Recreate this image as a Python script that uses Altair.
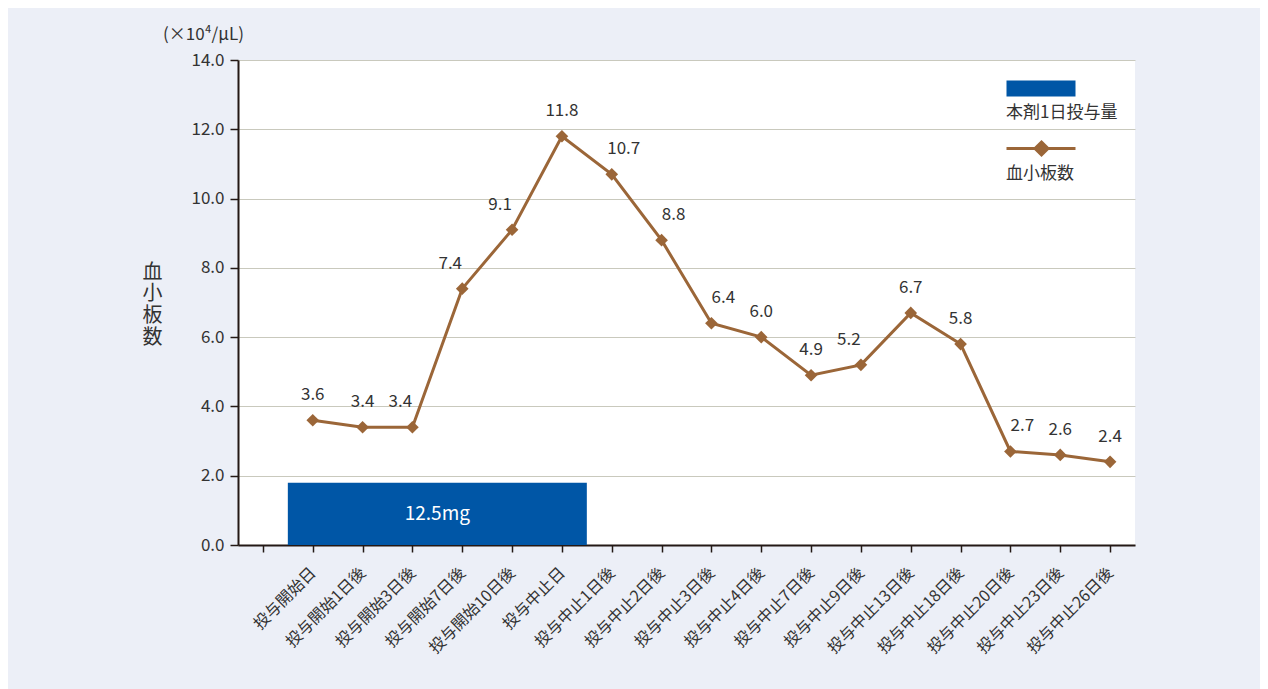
import json
import altair as alt
import pandas as pd

# ---------------- data ----------------
categories = ["", "投与開始日", "投与開始1日後", "投与開始3日後", "投与開始7日後",
              "投与開始10日後", "投与中止日", "投与中止1日後", "投与中止2日後",
              "投与中止3日後", "投与中止4日後", "投与中止7日後", "投与中止9日後",
              "投与中止13日後", "投与中止18日後", "投与中止20日後", "投与中止23日後",
              "投与中止26日後"]
platelet_days = categories[1:]
platelets = [3.6, 3.4, 3.4, 7.4, 9.1, 11.8, 10.7, 8.8, 6.4, 6.0, 4.9, 5.2, 6.7,
             5.8, 2.7, 2.6, 2.4]
dose_first_day = "投与開始日"
dose_last_day = "投与中止日"
dose_value = [1.8]
dose_label = ["12.5mg"]
y_ticks = [0, 2, 4, 6, 8, 10, 12, 14]
series_dose = "本剤1日投与量"
series_platelet = "血小板数"
y_title = "血小板数"
unit_label = "(×10⁴/μL)"

# ---------------- styles ----------------
FONT = "Noto Sans CJK JP"
BLUE = "#0056A6"
BROWN = "#9B6638"
TEXT = "#333333"
AXIS = "#231815"
GRID = "#C9C9BD"
BG = "#ECEFF7"

# ---------------- tables ----------------
# label placement: move a value label sideways away from a steep segment that
# rises from the point (so the label does not sit on the line)
pos = [categories.index(d) for d in platelet_days]
dirs = []
for i, v in enumerate(platelets):
    up_left = platelets[i - 1] - v if i > 0 else -99
    up_right = platelets[i + 1] - v if i < len(platelets) - 1 else -99
    if min(up_left, up_right) > 0 or max(up_left, up_right) <= 1.0:
        dirs.append("C")
    elif up_right > up_left:
        dirs.append("L")
    else:
        dirs.append("R")

plt_df = pd.DataFrame({"pos": pos, "value": platelets, "day": platelet_days,
                       "dir": dirs, "series": series_platelet,
                       "label": [f"{v:.1f}" for v in platelets]})

d0 = categories.index(dose_first_day)
d1 = categories.index(dose_last_day)
dose_df = pd.DataFrame({"start": [d0 - 0.5], "end": [d1 + 0.5], "mid": [(d0 + d1) / 2],
                        "value": dose_value, "half": [v / 2 for v in dose_value],
                        "base": [0], "label": dose_label, "series": series_dose})

# ---------------- scales & axes ----------------
x_scale = alt.Scale(domain=[-0.5, len(categories) - 0.5], nice=False, zero=False)
y_scale = alt.Scale(domain=[0, 14], nice=False)

x_axis = alt.Axis(
    values=list(range(len(categories))),
    labelExpr=f"{json.dumps(categories, ensure_ascii=False)}[datum.value]",
    title=None, grid=False, labelAngle=-45, labelAlign="right",
    labelBaseline="middle", labelPadding=18, labelFontSize=16, labelFont=FONT,
    labelColor=TEXT, tickColor=AXIS, tickSize=7, tickWidth=1.5,
    domainColor=AXIS, domainWidth=2, labelOverlap=False, labelBound=False,
)
y_axis = alt.Axis(
    values=y_ticks, format=".1f", title=list(y_title), titleAngle=0,
    titleX=-86, titleY=212, titleAlign="center", titleBaseline="middle",
    titleLineHeight=21.7, titleFontSize=20, titleFont=FONT, titleColor=TEXT,
    titleFontWeight="normal",
    labelFontSize=17, labelFont=FONT, labelColor=TEXT, labelPadding=6,
    tickColor=AXIS, tickSize=8, tickWidth=1.5, domainColor=AXIS, domainWidth=2,
    grid=True, gridColor=GRID, gridWidth=1,
)


def X(field):
    return alt.X(f"{field}:Q", scale=x_scale, axis=x_axis)


def Y(field):
    return alt.Y(f"{field}:Q", scale=y_scale, axis=y_axis)


# ---------------- layers ----------------
bar = alt.Chart(dose_df).mark_bar(cornerRadius=0).encode(
    x=X("start"), x2="end", y=Y("value"), y2="base",
    fill=alt.Fill("series:N", scale=alt.Scale(domain=[series_dose], range=[BLUE]),
                  legend=alt.Legend(title=None, orient="none", legendX=751, legendY=44,
                                    symbolType="M9,-32H78V-16H9Z", symbolSize=4,
                                    symbolStrokeWidth=0, labelOffset=0,
                                    labelFontSize=17, labelFont=FONT, labelColor=TEXT,
                                    labelBaseline="middle", padding=0)),
)
bar_text = alt.Chart(dose_df).mark_text(color="white", fontSize=19, font=FONT,
                                        baseline="middle").encode(
    x=X("mid"), y=Y("half"), text="label:N")

line = alt.Chart(plt_df).mark_line(strokeWidth=3).encode(
    x=X("pos"), y=Y("value"),
    stroke=alt.Stroke("series:N",
                      scale=alt.Scale(domain=[series_platelet], range=[BROWN]),
                      legend=alt.Legend(title=None, orient="none", legendX=751,
                                        legendY=105,
                                        symbolType="M9,-25H78M44,-31.5L50.5,-25L44,-18.5L37.5,-25Z",
                                        symbolSize=4, symbolStrokeWidth=3,
                                        symbolFillColor=BROWN, symbolStrokeColor=BROWN,
                                        labelOffset=0, labelFontSize=17, labelFont=FONT,
                                        labelColor=TEXT, labelBaseline="middle",
                                        padding=0)),
)
points = alt.Chart(plt_df).mark_point(shape="diamond", filled=True, size=160,
                                      color=BROWN, opacity=1).encode(
    x=X("pos"), y=Y("value"))

label_layers = []
for d, dx in (("L", -12), ("C", 0), ("R", 12)):
    label_layers.append(
        alt.Chart(plt_df).transform_filter(alt.datum.dir == d).mark_text(
            fontSize=17, font=FONT, color=TEXT, dy=-25, dx=dx, baseline="middle"
        ).encode(x=X("pos"), y=Y("value"), text="label:N")
    )

chart = alt.layer(bar, bar_text, line, points, *label_layers).resolve_scale(
    fill="independent", stroke="independent"
).properties(
    width=897, height=485,
    padding={"left": 230, "top": 52, "right": 125, "bottom": 144},
    autosize=alt.AutoSizeParams(type="none"),
    background=BG,
    title=alt.TitleParams(text=unit_label, anchor="start", frame="group", dx=-75,
                          offset=7, fontSize=17, fontWeight="normal", font=FONT,
                          color=TEXT),
).configure_view(fill="white", stroke=None)

chart.save("out.html", embed_options={"renderer": "svg", "actions": False})
